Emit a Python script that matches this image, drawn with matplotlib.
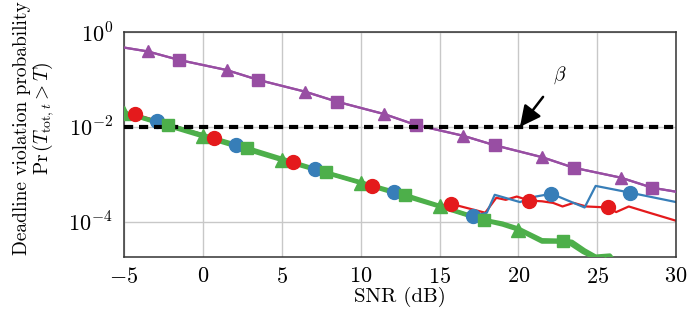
import numpy as np
import matplotlib
matplotlib.use('Agg')
import matplotlib.pyplot as plt

plt.rcParams['font.family'] = 'serif'
plt.rcParams['font.serif'] = ['cmr10']
plt.rcParams['mathtext.fontset'] = 'cm'
plt.rcParams['axes.formatter.use_mathtext'] = True

# SNR axis (dB) and values
purple_x = [-5, -3.5, -1.5, 1.5, 3.5, 6.5, 8.5, 11.5, 13.5, 16.5, 18.5, 21.5, 23.5, 26.5, 28.5, 30]
purple_y = [0.47, 0.39, 0.257, 0.158, 0.098, 0.055, 0.034, 0.0186, 0.011, 6.5e-3,
            4.1e-3, 2.3e-3, 1.38e-3, 8.5e-4, 5.2e-4, 4.3e-4]
purple_tri = [-3.5, 1.5, 6.5, 11.5, 16.5, 21.5, 26.5]
purple_sq = [-1.5, 3.5, 8.5, 13.5, 18.5, 23.5, 28.5]

red_x = [-5, -4.3, 0.7, 5.7, 10.7, 15.0, 15.7, 17.9, 18.6, 19.2, 19.9, 20.7, 21.5,
         22.2, 22.8, 23.5, 24.3, 25.7, 26.2, 27.0, 28.3, 30.0]
red_y = [2.0e-2, 1.85e-2, 5.9e-3, 1.8e-3, 5.7e-4, 2.2e-4, 2.4e-4, 1.55e-4, 3.2e-4,
         2.9e-4, 3.4e-4, 2.8e-4, 2.7e-4, 2.5e-4, 2.1e-4, 2.5e-4, 2.1e-4, 2.0e-4,
         1.6e-4, 2.1e-4, 1.55e-4, 1.05e-4]
red_marks = [-4.3, 0.7, 5.7, 10.7, 15.7, 20.7, 25.7]

blue_x = [-5, -2.9, 2.1, 7.1, 12.1, 17.1, 18.0, 18.5, 20.1, 21.1, 22.1, 24.2, 24.9, 27.1, 30]
blue_y = [2.0e-2, 1.35e-2, 4.2e-3, 1.3e-3, 4.3e-4, 1.3e-4, 1.55e-4, 3.7e-4, 2.6e-4,
          3.4e-4, 3.9e-4, 2.0e-4, 5.7e-4, 4.1e-4, 2.6e-4]
blue_marks = [-2.9, 2.1, 7.1, 12.1, 17.1, 22.1, 27.1]

gtri_x = [-5, 0, 5, 10, 15, 17.7, 19.0, 20, 21.5, 22.4, 23.2, 24.1, 24.8, 25.5]
gtri_y = [2.0e-2, 6.3e-3, 2.0e-3, 6.6e-4, 2.1e-4, 1.1e-4, 8.7e-5, 6.8e-5, 3.8e-5,
          3.8e-5, 3.6e-5, 2.3e-5, 1.75e-5, 1.3e-5]
gtri_marks = [-5, 0, 5, 10, 15, 20, 25.5]

gsq_x = [-5, -2.2, 2.8, 7.8, 12.8, 17.8, 19.0, 20, 21.5, 22.8, 23.4, 24.2, 24.9, 25.8, 26.5]
gsq_y = [2.0e-2, 1.1e-2, 3.6e-3, 1.1e-3, 3.7e-4, 1.1e-4, 9.2e-5, 7.2e-5, 4.1e-5,
         4.0e-5, 3.8e-5, 2.5e-5, 1.85e-5, 1.95e-5, 1.0e-5]
gsq_marks = [-2.2, 2.8, 7.8, 12.8, 17.8, 22.8]

beta = 1e-2
xticks = [-5, 0, 5, 10, 15, 20, 25, 30]
yticks = [1e-4, 1e-2, 1e0]
ytick_labels = ['$10^{-4}$', '$10^{-2}$', '$10^{0}$']

PURPLE, RED, BLUE, GREEN = '#984ea3', '#e41a1c', '#377eb8', '#4daf4a'


def idx(xs, marks):
    return [i for i, v in enumerate(xs) if v in marks]


fig = plt.figure(figsize=(6.97, 3.17), dpi=100)
ax = fig.add_axes([0.178, 0.189, 0.792, 0.710])

ax.plot(purple_x, purple_y, color=PURPLE, lw=1.6, marker='^', ms=9,
        markevery=idx(purple_x, purple_tri), zorder=3)
ax.plot(purple_x, purple_y, color=PURPLE, lw=1.6, marker='s', ms=9,
        markevery=idx(purple_x, purple_sq), zorder=3)

ax.plot(red_x, red_y, color=RED, lw=1.6, zorder=2)
ax.plot(blue_x, blue_y, color=BLUE, lw=1.6, zorder=2)
ax.plot(gtri_x, gtri_y, color=GREEN, lw=3.0, zorder=3)
ax.plot(gsq_x, gsq_y, color=GREEN, lw=3.0, zorder=3)

ax.plot(blue_x, blue_y, ls='none', marker='o', ms=10, color=BLUE,
        markevery=idx(blue_x, blue_marks), zorder=4)
ax.plot(gtri_x, gtri_y, ls='none', marker='^', ms=9.5, color=GREEN,
        markevery=idx(gtri_x, gtri_marks), zorder=5)
ax.plot(gsq_x, gsq_y, ls='none', marker='s', ms=9, color=GREEN,
        markevery=idx(gsq_x, gsq_marks), zorder=5)
ax.plot(red_x, red_y, ls='none', marker='o', ms=10, color=RED,
        markevery=idx(red_x, red_marks), zorder=6)

ax.axhline(beta, color='black', lw=3, ls=(0, (2.2, 1.4)), zorder=4)
ax.annotate(r'$\beta$', xy=(20.1, beta), xytext=(22.6, 0.12), fontsize=14,
            ha='center', va='center',
            arrowprops=dict(arrowstyle='-|>,head_length=0.9,head_width=0.45',
                            color='black', lw=1.8, shrinkA=8, shrinkB=0), zorder=7)

ax.set_yscale('log')
ax.set_xlim(-5, 30)
ax.set_ylim(1.8e-5, 1)
ax.set_xticks(xticks)
ax.set_xticklabels([f'${v}$' for v in xticks])
ax.set_yticks(yticks)
ax.set_yticklabels(ytick_labels)
ax.minorticks_off()
ax.tick_params(direction='in', length=0, labelsize=16)
ax.tick_params(axis='x', pad=7)
ax.tick_params(axis='y', pad=8)
ax.grid(True, color='#c8c8c8', lw=1)
ax.set_axisbelow(True)
for s in ax.spines.values():
    s.set_color('#333333')
    s.set_linewidth(1.1)

ax.set_xlabel('SNR (dB)', fontsize=15, labelpad=0)
fig.text(22 / 697, 1 - 128.5 / 317, 'Deadline violation probability', rotation=90,
         ha='center', va='center', fontsize=14)
fig.text(43 / 697, 1 - 118 / 317, r'$\mathrm{Pr}\,(T_{\mathrm{tot},t} > T)$', rotation=90,
         ha='center', va='center', fontsize=14)

fig.savefig('out.png', dpi=100)
